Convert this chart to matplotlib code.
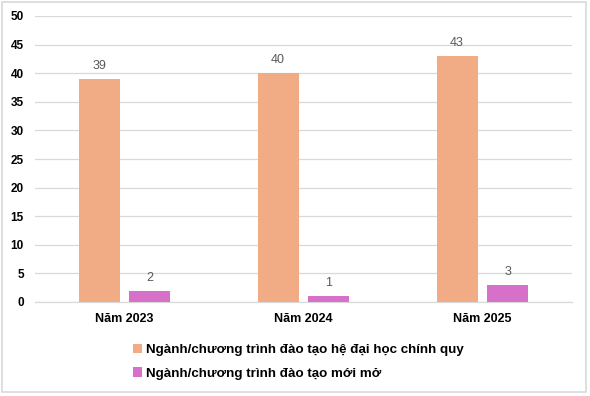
import matplotlib
matplotlib.use("Agg")
import matplotlib.pyplot as plt
import numpy as np
from matplotlib.patches import Rectangle

categories = ["Năm 2023", "Năm 2024", "Năm 2025"]
series_names = ["Ngành/chương trình đào tạo hệ đại học chính quy",
                "Ngành/chương trình đào tạo mới mở"]
regular = [39, 40, 43]
new_open = [2, 1, 3]
yticks = [0, 5, 10, 15, 20, 25, 30, 35, 40, 45, 50]

plt.rcParams['font.family'] = ['Liberation Sans', 'DejaVu Sans']

fig = plt.figure(figsize=(5.90, 3.96), dpi=100)
ax = fig.add_axes([35/590, 1 - 302/396, 537/590, 286/396])

x = np.arange(len(categories))
w = 0.229
off = 0.142
b1 = ax.bar(x - off, regular, w, color="#F2AC85", label=series_names[0], zorder=3)
b2 = ax.bar(x + off, new_open, w, color="#D670C9", label=series_names[1], zorder=3)

for bars, vals in ((b1, regular), (b2, new_open)):
    for r, v in zip(bars, vals):
        ax.annotate(str(v), (r.get_x() + r.get_width()/2, v), xytext=(0, 5),
                    textcoords="offset points", ha="center", va="bottom",
                    fontsize=9, color="#595959")

ax.set_xlim(-0.5, 2.5)
ax.set_ylim(0, 50)
ax.set_yticks(yticks)
ax.set_yticklabels([str(t) for t in yticks], fontsize=8.5, fontweight="bold")
ax.set_xticks(x)
ax.set_xticklabels(categories, fontsize=9, fontweight="bold")
ax.tick_params(axis="both", length=0)
ax.tick_params(axis="y", pad=8)
ax.tick_params(axis="x", pad=8)
ax.grid(axis="y", color="#D9D9D9", linewidth=0.9, zorder=0)
for s in ("top", "right", "left"):
    ax.spines[s].set_visible(False)
ax.spines["bottom"].set_color("#D9D9D9")
ax.spines["bottom"].set_linewidth(0.9)

leg = fig.legend(handles=[b1, b2], loc="upper left", bbox_to_anchor=(126/590, 1 - 337/396),
                 ncol=1, frameon=False, handlelength=0.7, handleheight=0.7,
                 handletextpad=0.3, labelspacing=0.85, borderpad=0,
                 prop={"size": 9.6, "weight": "bold"})

fig.patches.append(Rectangle((2/590, 4/396), 584/590, 390/396, transform=fig.transFigure,
                             fill=False, edgecolor="#D9D9D9", linewidth=1.2))

fig.savefig("out.png", dpi=100)
